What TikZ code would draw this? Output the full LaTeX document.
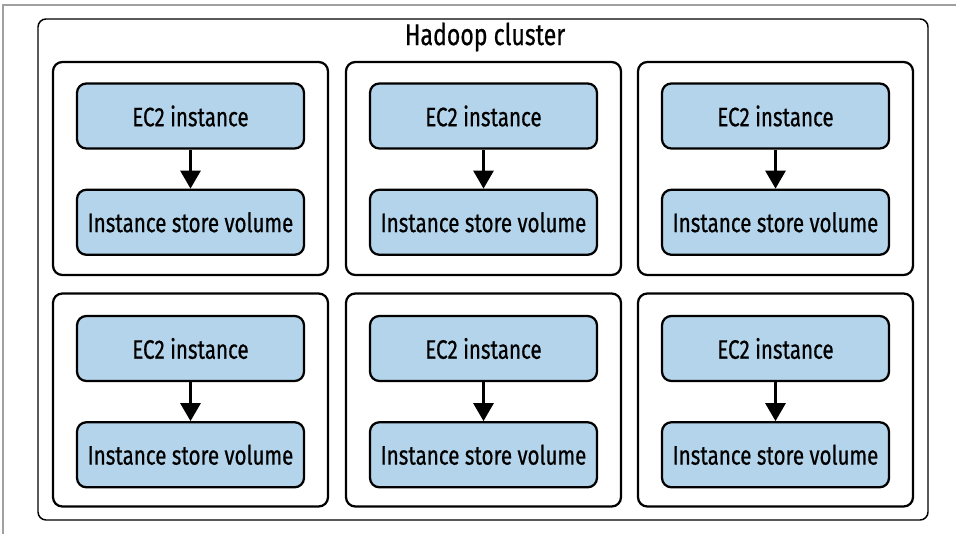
\documentclass[tikz,border=0pt]{standalone}
\usepackage{fontspec}
\setmainfont[FakeStretch=0.77, FakeBold=0.6]{Fira Sans}
\usetikzlibrary{arrows.meta, positioning}
\definecolor{ec2blue}{RGB}{179, 212, 234}
\definecolor{pagegray}{RGB}{160, 160, 160}
\tikzset{
  cluster/.style={rectangle, rounded corners=6pt, draw=black, line width=1.1pt,
                  minimum width=667.5pt, minimum height=375.75pt, inner sep=0pt},
  hostbox/.style={rectangle, rounded corners=7pt, draw=black, line width=1.7pt, fill=white,
                  minimum width=206.25pt, minimum height=159.75pt, inner sep=0pt},
  ec2box/.style={rectangle, rounded corners=7pt, draw=black, line width=1.7pt, fill=ec2blue,
                 minimum width=170.25pt, minimum height=48.75pt, inner sep=0pt,
                 font=\fontsize{20}{24}\selectfont},
  arrow/.style={-{Triangle[width=15pt, length=13.5pt]}, line width=2.2pt},
}
\begin{document}
\begin{tikzpicture}[x=0.75pt, y=-0.75pt]
  \useasboundingbox (0,0) rectangle (956,534);
  % page frame
  \draw[pagegray, line width=0.8pt] (3,534) -- (3,5) -- (956,5);

  % Cluster
  \node[cluster] (cluster) at (483,269.5) {};
  \node[font=\fontsize{22.5}{26}\selectfont] (title) at (485,37) {Hadoop cluster};

  % Row 1, column 1
  \node[hostbox] (host11) at (190.5,168.5) {};
  \node[ec2box] (ec211) at (190.5,116) {EC2 instance};
  \node[ec2box, below=29.25pt of ec211] (vol11) {Instance store volume};
  \draw[arrow] (ec211) -- (vol11);

  % Row 1, column 2
  \node[hostbox] (host12) at (483.5,168.5) {};
  \node[ec2box] (ec212) at (483.5,116) {EC2 instance};
  \node[ec2box, below=29.25pt of ec212] (vol12) {Instance store volume};
  \draw[arrow] (ec212) -- (vol12);

  % Row 1, column 3
  \node[hostbox] (host13) at (775.5,168.5) {};
  \node[ec2box] (ec213) at (775.5,116) {EC2 instance};
  \node[ec2box, below=29.25pt of ec213] (vol13) {Instance store volume};
  \draw[arrow] (ec213) -- (vol13);

  % Row 2, column 1
  \node[hostbox] (host21) at (190.5,400) {};
  \node[ec2box] (ec221) at (190.5,348.5) {EC2 instance};
  \node[ec2box, below=29.25pt of ec221] (vol21) {Instance store volume};
  \draw[arrow] (ec221) -- (vol21);

  % Row 2, column 2
  \node[hostbox] (host22) at (483.5,400) {};
  \node[ec2box] (ec222) at (483.5,348.5) {EC2 instance};
  \node[ec2box, below=29.25pt of ec222] (vol22) {Instance store volume};
  \draw[arrow] (ec222) -- (vol22);

  % Row 2, column 3
  \node[hostbox] (host23) at (775.5,400) {};
  \node[ec2box] (ec223) at (775.5,348.5) {EC2 instance};
  \node[ec2box, below=29.25pt of ec223] (vol23) {Instance store volume};
  \draw[arrow] (ec223) -- (vol23);
\end{tikzpicture}
\end{document}
